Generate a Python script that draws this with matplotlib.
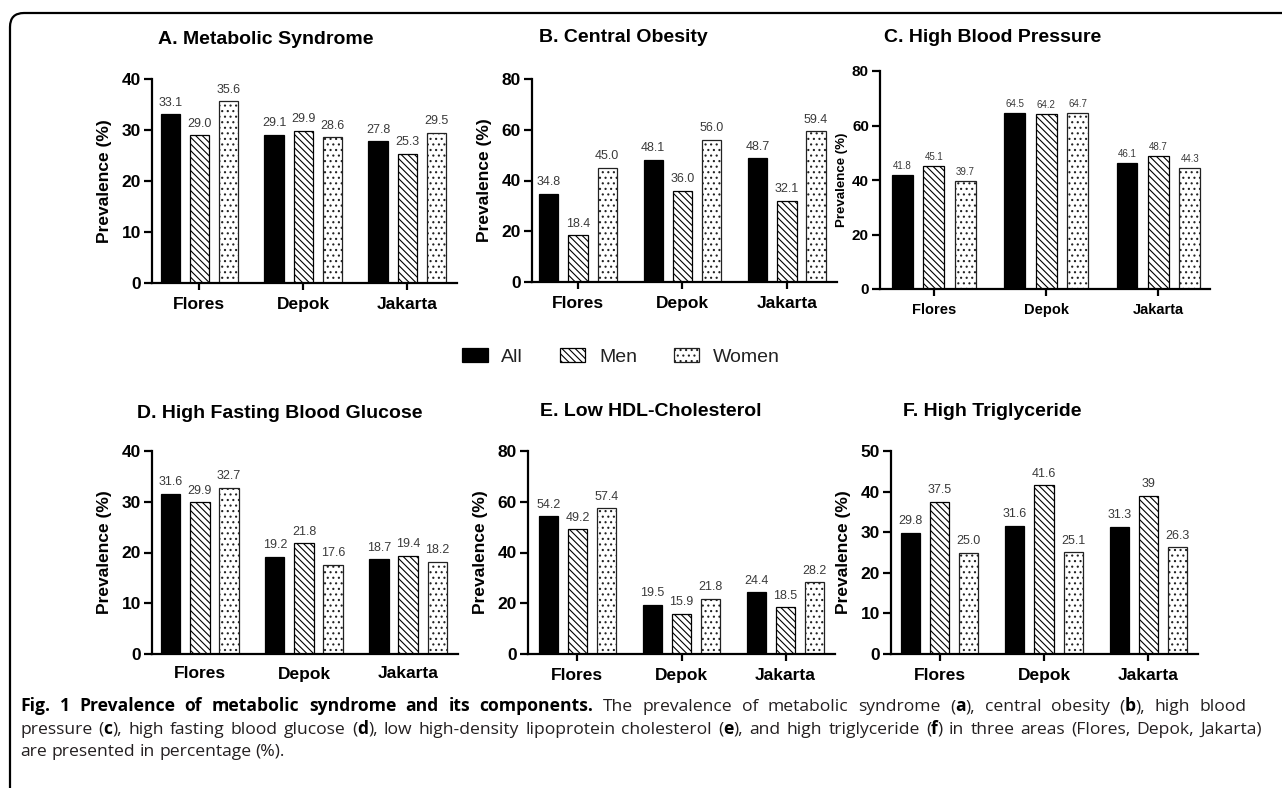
import re
import matplotlib
matplotlib.use("Agg")
import matplotlib.pyplot as plt
import numpy as np
from matplotlib.patches import Patch, FancyBboxPatch
from matplotlib.transforms import IdentityTransform

plt.rcParams['font.family'] = ['Liberation Sans', 'DejaVu Sans']
plt.rcParams['hatch.linewidth'] = 0.8

# ---------------- data ----------------
areas = ["Flores", "Depok", "Jakarta"]
groups = ["All", "Men", "Women"]

ms_all = [33.1, 29.1, 27.8]
ms_men = [29.0, 29.9, 25.3]
ms_women = [35.6, 28.6, 29.5]

co_all = [34.8, 48.1, 48.7]
co_men = [18.4, 36.0, 32.1]
co_women = [45.0, 56.0, 59.4]

bp_all = [41.8, 64.5, 46.1]
bp_men = [45.1, 64.2, 48.7]
bp_women = [39.7, 64.7, 44.3]

fg_all = [31.6, 19.2, 18.7]
fg_men = [29.9, 21.8, 19.4]
fg_women = [32.7, 17.6, 18.2]

hdl_all = [54.2, 19.5, 24.4]
hdl_men = [49.2, 15.9, 18.5]
hdl_women = [57.4, 21.8, 28.2]

tg_all = [29.8, 31.6, 31.3]
tg_men = [37.5, 41.6, 39]
tg_women = [25.0, 25.1, 26.3]
tg_men_labels = ["37.5", "41.6", "39"]

titles = ["A. Metabolic Syndrome", "B. Central Obesity", "C. High Blood Pressure",
          "D. High Fasting Blood Glucose", "E. Low HDL-Cholesterol", "F. High Triglyceride"]
ymaxes = [40, 80, 80, 40, 80, 50]
ysteps = [10, 20, 20, 10, 20, 10]

# ---------------- figure ----------------
W, H = 1282, 788
fig = plt.figure(figsize=(W / 100, H / 100), dpi=100)

def rect(l, r, t, b):
    return [l / W, 1 - b / H, (r - l) / W, (b - t) / H]

panels = [
    dict(box=rect(152, 457, 79, 283), tc=(266, 40), data=(ms_all, ms_men, ms_women), xticks=True,
         tick_fs=12.5, cat_fs=12.5, yl_fs=12.5, val_fs=9, labelpad=7, xlim=(-0.455, 2.48), vpad=4),
    dict(box=rect(532, 837, 79, 282), tc=(623, 38), data=(co_all, co_men, co_women), xticks=True,
         tick_fs=12.5, cat_fs=12.5, yl_fs=12.5, val_fs=9, labelpad=7, xlim=(-0.44, 2.48), vpad=4),
    dict(box=rect(880, 1210, 71, 289), tc=(993, 38), data=(bp_all, bp_men, bp_women), xticks=True,
         tick_fs=11, cat_fs=10.5, yl_fs=9.5, val_fs=7, labelpad=3, xlim=(-0.48, 2.46), vpad=3),
    dict(box=rect(152, 458, 451, 654), tc=(280, 413), data=(fg_all, fg_men, fg_women), xticks=False,
         tick_fs=12.5, cat_fs=12.5, yl_fs=12.5, val_fs=9, labelpad=7, xlim=(-0.46, 2.48), vpad=4),
    dict(box=rect(528, 835, 451, 654), tc=(651, 412), data=(hdl_all, hdl_men, hdl_women), xticks=True,
         tick_fs=12.5, cat_fs=12.5, yl_fs=12.5, val_fs=9, labelpad=7, xlim=(-0.475, 2.475), vpad=4),
    dict(box=rect(891, 1198, 451, 654), tc=(992, 412), data=(tg_all, tg_men, tg_women), xticks=True,
         tick_fs=12.5, cat_fs=12.5, yl_fs=12.5, val_fs=9, labelpad=7, xlim=(-0.465, 2.475), vpad=4),
]

styles = [
    dict(facecolor="black", edgecolor="black", hatch=None),
    dict(facecolor="white", edgecolor="black", hatch="\\" * 5),
    dict(facecolor="white", edgecolor="#222222", hatch="..."),
]

x = np.arange(len(areas))
off = 0.28
bw = 0.185

for i, p in enumerate(panels):
    ax = fig.add_axes(p["box"])
    for j, (vals, st) in enumerate(zip(p["data"], styles)):
        bars = ax.bar(x + (j - 1) * off, vals, width=bw, facecolor=st["facecolor"],
                      edgecolor=st["edgecolor"], hatch=st["hatch"], linewidth=0.9, zorder=2)
        if i == 5 and j == 1:
            labels = tg_men_labels
        else:
            labels = [f"{v:.1f}" for v in vals]
        ax.bar_label(bars, labels=labels, padding=p["vpad"], fontsize=p["val_fs"],
                     family=["Liberation Sans Narrow", "Liberation Sans"], color="#3a3a3a")
    ax.set_xlim(*p["xlim"])
    ax.set_ylim(0, ymaxes[i])
    ax.set_yticks(np.arange(0, ymaxes[i] + 1, ysteps[i]))
    ax.set_xticks(x)
    ax.set_xticklabels(areas, fontsize=p["cat_fs"], fontweight="bold")
    for lab in ax.get_yticklabels():
        lab.set_fontsize(p["tick_fs"])
        lab.set_fontweight("bold")
    ax.set_ylabel("Prevalence (%)", fontsize=p["yl_fs"], fontweight="bold", labelpad=p["labelpad"])
    for s in ["top", "right"]:
        ax.spines[s].set_visible(False)
    for s in ["left", "bottom"]:
        ax.spines[s].set_linewidth(1.6)
    ax.tick_params(axis="y", length=6, width=1.6, pad=2)
    if p["xticks"]:
        ax.tick_params(axis="x", length=5, width=1.6, pad=5)
    else:
        ax.tick_params(axis="x", length=0, pad=9)
    ax.patch.set_alpha(0)
    fig.text(p["tc"][0] / W, 1 - p["tc"][1] / H, titles[i], ha="center", va="center",
             fontsize=14, fontweight="bold")

# legend
handles = [Patch(facecolor=st["facecolor"], edgecolor=st["edgecolor"], hatch=st["hatch"], linewidth=0.9)
           for st in styles]
fig.legend(handles, groups, loc="center", bbox_to_anchor=(621 / W, 1 - 357 / H), ncol=3,
           frameon=False, fontsize=14, handlelength=1.3, handleheight=0.67,
           handletextpad=0.7, columnspacing=1.9, labelcolor="#222222")

# frame
frame = FancyBboxPatch((10, -60), 1400, H - 13 + 60, boxstyle="round,pad=0,rounding_size=14",
                       transform=IdentityTransform(), facecolor="none", edgecolor="black",
                       linewidth=1.6)
fig.patches.append(frame)

# caption (lines 1-2 justified)
cap_font = ["Open Sans", "DejaVu Sans"]
cap_fs = 12.6
cap_color = "#231f20"
lines = [
    [("Fig. 1 Prevalence of metabolic syndrome and its components.", True),
     (" The prevalence of metabolic syndrome (", False), ("a", True), ("), central obesity (", False),
     ("b", True), ("), high blood", False)],
    [("pressure (", False), ("c", True), ("), high fasting blood glucose (", False), ("d", True),
     ("), low high-density lipoprotein cholesterol (", False), ("e", True),
     ("), and high triglyceride (", False), ("f", True), (") in three areas (Flores, Depok, Jakarta)", False)],
    [("are presented in percentage (%).", False)],
]
line_y = [711, 734, 756]
line_right = [1247, 1262, None]
renderer = fig.canvas.get_renderer()

def cap_kw(b):
    return dict(fontsize=cap_fs, family=cap_font, color="black" if b else cap_color,
                fontweight="bold" if b else "normal")

def width_of(s, b):
    t = fig.text(0, 0, s, **cap_kw(b))
    w = t.get_window_extent(renderer).width
    t.remove()
    return w

space_w = {b: width_of("x x", b) - width_of("xx", b) for b in (True, False)}

for ly, parts, rgt in zip(line_y, lines, line_right):
    toks = []
    for s, b in parts:
        for tk in re.split(r"( )", s):
            if tk == "":
                continue
            toks.append((tk, b))
    words_w = [width_of(tk, b) if tk != " " else space_w[b] for tk, b in toks]
    n_sp = sum(1 for tk, _ in toks if tk == " ")
    natural = sum(words_w)
    extra = 0.0
    if rgt is not None and n_sp:
        extra = max(0.0, (rgt - 20 - natural) / n_sp)
    xpix = 20.0
    for (tk, b), w in zip(toks, words_w):
        if tk == " ":
            xpix += w + extra
            continue
        t = fig.text(xpix / W, 1 - ly / H, tk, ha="left", va="baseline", **cap_kw(b))
        xpix = t.get_window_extent(renderer).x1

fig.savefig("out.png", dpi=100)
